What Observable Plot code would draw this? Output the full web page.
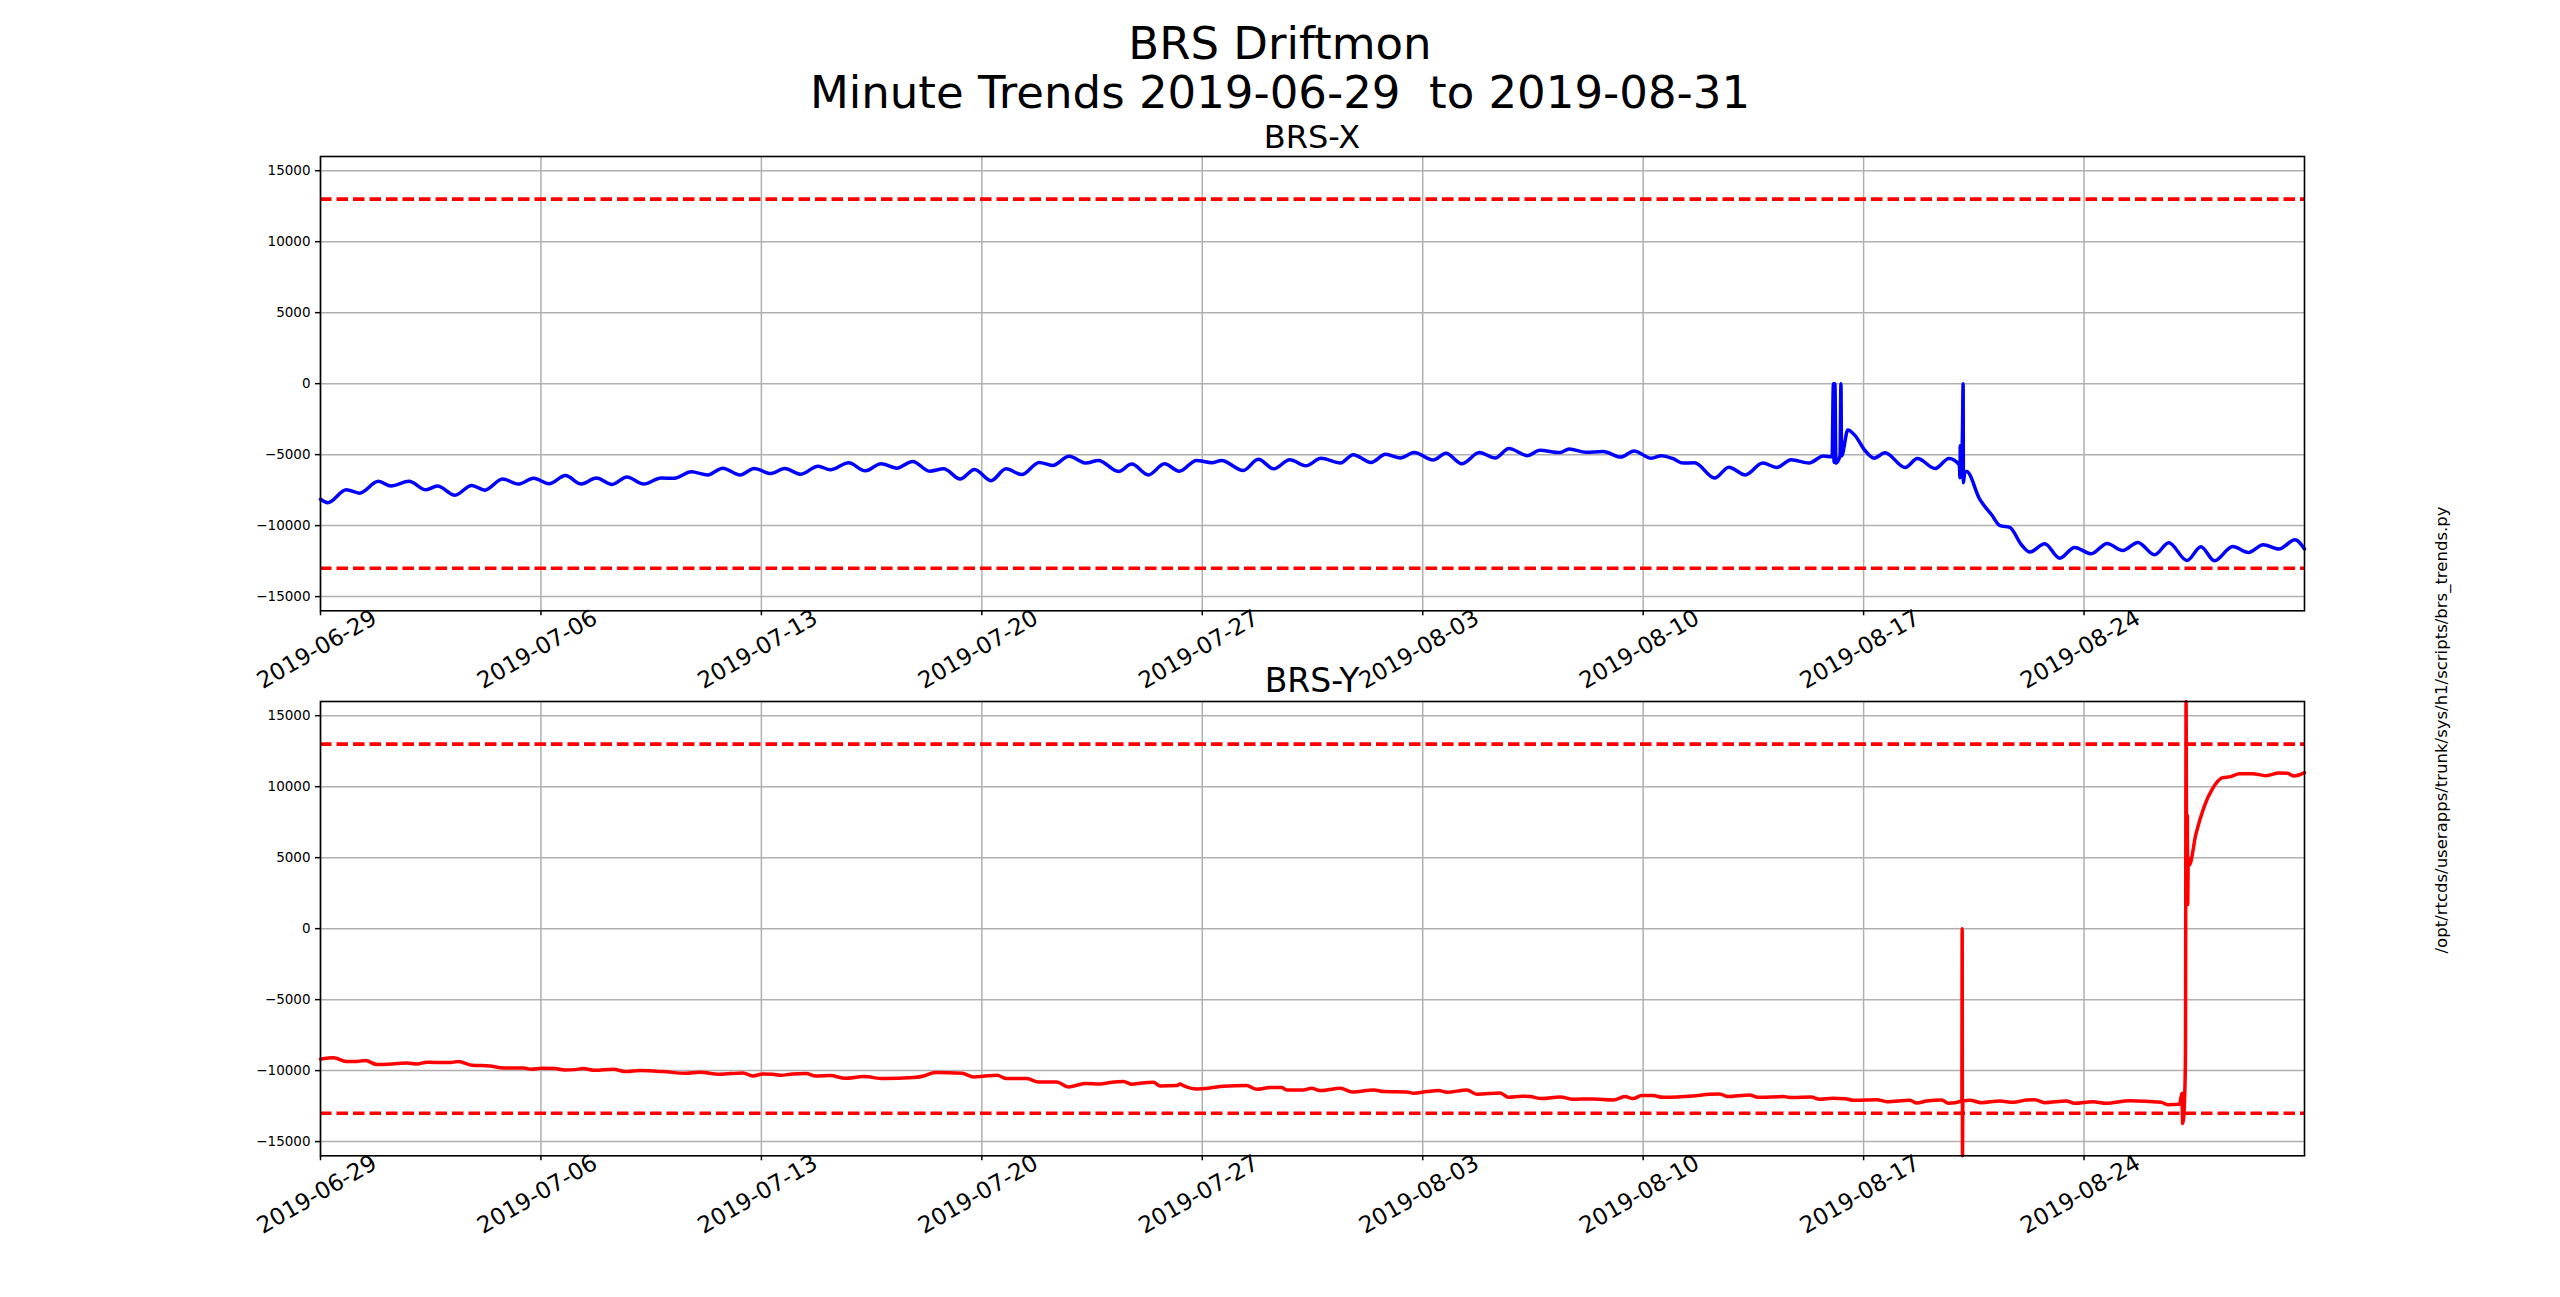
<!DOCTYPE html>
<html>
<head>
<meta charset="utf-8">
<script src="https://cdn.jsdelivr.net/npm/d3@7"></script>
<script src="https://cdn.jsdelivr.net/npm/@observablehq/plot@0.6"></script>
<style>
  html, body { margin: 0; padding: 0; background: #fff; }
  #page { position: relative; width: 2560px; height: 1297px; background: #fff; font-family: "DejaVu Sans", sans-serif; color: #000; overflow: hidden; }
  .t { position: absolute; white-space: nowrap; transform: translateX(-50%); }
  .panel { position: absolute; left: 0; }
  #side { position: absolute; white-space: nowrap; font-size: 16.5px; transform: translate(-50%, -50%) rotate(-90deg); }
</style>
</head>
<body>
<div id="page">
  <div class="t" style="left:1280px; top:18.5px; font-size:45px; line-height:49px; text-align:center; white-space:pre;">BRS Driftmon
Minute Trends 2019-06-29  to 2019-08-31</div>
  <div class="t" style="left:1312px; top:120.5px; font-size:32px; line-height:32px;">BRS-X</div>
  <div id="p1" class="panel" style="top:146px;"></div>
  <div id="p2" class="panel" style="top:690.7px;"></div>
  <div class="t" style="left:1312px; top:664px; font-size:33px; line-height:33px;">BRS-Y</div>
  <div id="side" style="left:2441px; top:730px;">/opt/rtcds/userapps/trunk/sys/h1/scripts/brs_trends.py</div>
</div>
<script>
// ---- data (days since 2019-06-29 00:00 UTC, values in counts) ----
const xDays = [0, 0.23, 0.82, 1.24, 1.84, 2.24, 2.81, 3.35, 3.71, 4.27, 4.80, 5.22, 5.78, 6.28, 6.77, 7.26, 7.78, 8.28, 8.76, 9.26, 9.73, 10.26, 10.82, 11.24, 11.77, 12.30, 12.77, 13.32, 13.77, 14.30, 14.74, 15.25, 15.80,
  16.19, 16.77, 17.30, 17.80, 18.30, 18.80, 19.34, 19.79, 20.31, 20.77, 21.29, 21.77, 22.27, 22.82, 23.25, 23.77, 24.31, 24.70, 25.34, 25.76, 26.29, 26.80, 27.27, 27.82, 28.30, 28.61, 29.30, 29.78, 30.27, 30.78, 31.29, 31.77,
  32.39, 32.79, 33.36, 33.82, 34.29, 34.73, 35.33, 35.74, 36.24, 36.80, 37.30, 37.74, 38.32, 38.72, 39.36, 39.65, 40.18, 40.73, 41.29, 41.71, 42.26, 42.58, 42.95, 43.27, 43.63, 44.27, 44.72, 45.24, 45.80, 46.24, 46.70, 47.27, 47.72,
  48.00, 48.04, 48.06, 48.09, 48.12, 48.25, 48.28, 48.30, 48.50, 48.73, 49.05, 49.33, 49.68, 50.32, 50.71, 51.27, 51.71, 52.04, 52.06, 52.07, 52.09, 52.14, 52.16, 52.17, 52.21, 52.27, 52.69, 53.06, 53.33, 53.64, 54.01, 54.28, 54.75, 55.23, 55.70, 56.23, 56.73, 57.23, 57.71, 58.24, 58.69, 59.27, 59.71, 60.14, 60.72, 61.22, 61.69, 62.19, 62.70, 63.0];
const xVals = [-8143, -8381, -7476, -7714, -6881, -7214, -6881, -7476, -7214, -7857, -7167, -7500, -6714, -7071, -6667, -7048, -6476, -7071, -6643, -7095, -6571, -7071, -6643, -6667, -6214, -6429, -5952, -6429, -5976, -6333, -5976, -6381, -5810,
  -6071, -5571, -6143, -5643, -5952, -5476, -6167, -6000, -6714, -6048, -6833, -6000, -6405, -5548, -5762, -5119, -5595, -5405, -6190, -5667, -6429, -5643, -6167, -5405, -5571, -5405, -6119, -5333, -6000, -5357, -5786, -5262,
  -5595, -5000, -5548, -4976, -5238, -4857, -5381, -4905, -5643, -4857, -5238, -4571, -5071, -4690, -4857, -4595, -4833, -4786, -5167, -4738, -5262, -5071, -5286, -5595, -5571, -6643, -5881, -6429, -5595, -5905, -5357, -5590, -5100,
  -5150, 0, -5550, 0, -5600, -5100, 0, -5100, -3262, -3664, -4728, -5248, -4870, -5910, -5272, -5981, -5272, -5721, -6620, -4373, -6572, -3310, 0, -6974, -6265, -6194, -8156, -9220, -10000, -10118, -11347, -11867, -11276, -12293, -11536, -11985, -11253, -11749, -11182, -12056, -11206, -12458, -11489, -12482, -11465, -11891, -11347, -11654, -10993, -11650];

const yDays = [0, 0.42, 0.82, 1.06, 1.43, 1.80, 2.43, 2.75, 3.06, 3.38, 4.07, 4.38, 4.80, 5.38, 5.81, 6.44, 6.70, 7.02, 7.44, 7.76, 8.08, 8.34, 8.71, 9.29, 9.71, 10.14, 10.88, 11.61, 12.04, 12.67, 13.41, 13.73, 14.04, 14.36, 14.62, 14.99, 15.42, 15.73,
  16.19, 16.67, 17.25, 17.88, 18.83, 19.15, 19.52, 20.37, 20.74, 21.05, 21.48, 21.79, 22.43, 22.80, 23.38, 23.75, 24.28, 24.76, 25.07, 25.50, 25.76, 26.08, 26.45, 26.66, 27.19, 27.29, 27.40, 27.82, 28.19, 28.67, 29.41, 29.73, 30.15, 30.52, 30.68, 31.21, 31.47, 31.73,
  32.39, 32.76, 33.45, 33.76, 34.50, 34.71, 35.14, 35.50, 35.77, 36.40, 36.72, 37.46, 37.72, 38.15, 38.41, 38.78, 39.36, 39.78, 40.41, 41.05, 41.42, 41.68, 41.95, 42.31, 42.63, 43.58, 44.11, 44.43, 44.69, 45.38, 45.64, 46.43, 46.75, 47.33, 47.60, 48.02,
  48.42, 48.68, 49.42, 49.74, 50.47, 50.69, 51.00, 51.48, 51.69, 52.12, 52.13, 52.14, 52.15, 52.38, 52.74, 53.33, 53.75, 54.17, 54.43, 54.75, 55.44, 55.70, 56.28, 56.70, 57.44, 58.45, 58.66, 59.03, 59.11, 59.13, 59.18, 59.22, 59.24, 59.26, 59.28, 59.29, 59.31, 59.34, 59.55, 59.82, 60.08, 60.40, 60.66, 60.93, 61.35, 61.77, 62.19, 62.46, 62.67, 63.0];
const yVals = [-9178, -9085, -9366, -9366, -9296, -9577, -9507, -9460, -9530, -9413, -9437, -9366, -9624, -9671, -9812, -9812, -9906, -9836, -9859, -9953, -9930, -9859, -9977, -9906, -10070, -10000, -10070, -10188, -10117, -10258, -10164, -10376, -10235, -10258, -10329, -10235, -10211, -10376,
  -10352, -10540, -10422, -10563, -10493, -10376, -10141, -10188, -10446, -10399, -10329, -10563, -10563, -10798, -10798, -11150, -10915, -10939, -10845, -10775, -10962, -10868, -10822, -11080, -11056, -10939, -11056, -11291, -11244, -11103, -11056, -11314, -11197, -11197, -11361, -11361, -11244, -11408,
  -11244, -11502, -11361, -11479, -11502, -11596, -11479, -11408, -11526, -11361, -11666, -11573, -11878, -11807, -11831, -11971, -11854, -12018, -11995, -12065, -11831, -11971, -11760, -11760, -11878, -11784, -11666, -11643, -11831, -11713, -11878, -11831, -11901, -11854, -12018, -11948,
  -11977, -12094, -12047, -12188, -12094, -12283, -12141, -12071, -12306, -12141, 0, -16000, -12141, -12094, -12259, -12141, -12236, -12071, -12047, -12259, -12141, -12306, -12188, -12306, -12118, -12236, -12400, -12377, -11600, -13718, -12659, -9130, 16000, 2635, 8000, 1694, 4988, 4471, 6635, 8635, 9859, 10635, 10706, 10918, 10918, 10777, 10965, 10941, 10753, 10988];

const limits = [13000, -13000];
const yTicks = [-15000, -10000, -5000, 0, 5000, 10000, 15000];
const xTickLabels = ["2019-06-29", "2019-07-06", "2019-07-13", "2019-07-20", "2019-07-27", "2019-08-03", "2019-08-10", "2019-08-17", "2019-08-24"];
const xStart = "2019-06-29", xEnd = "2019-08-31";

// ---- drawing ----
const t0 = new Date(xStart).getTime();
const toDate = d => new Date(t0 + d * 864e5);
const tickDates = xTickLabels.map(s => new Date(s));
const fmtY = d => d < 0 ? "\u2212" + Math.abs(d) : String(d);
const fmtX = d3.utcFormat("%Y-%m-%d");

function panel(days, vals, color) {
  const data = days.map((d, i) => ({t: toDate(d), v: vals[i]}));
  return Plot.plot({
    width: 2560,
    height: 554.3,
    marginLeft: 320,
    marginRight: 256,
    marginTop: 10,
    marginBottom: 90,
    style: {fontFamily: "DejaVu Sans", background: "transparent", overflow: "visible", color: "black"},
    x: {type: "utc", domain: [new Date(xStart), new Date(xEnd)], label: null},
    y: {domain: [-16000, 16000], label: null},
    marks: [
      Plot.gridY({ticks: yTicks, stroke: "#b0b0b0", strokeOpacity: 1, strokeWidth: 1.5}),
      Plot.gridX({ticks: tickDates, stroke: "#b0b0b0", strokeOpacity: 1, strokeWidth: 1.5}),
      Plot.ruleY(limits, {stroke: "red", strokeWidth: 3.6, strokeDasharray: "11.5,5"}),
      Plot.line(data, {x: "t", y: "v", stroke: color, strokeWidth: 3.5, curve: "monotone-x"}),
      Plot.frame({stroke: "black", strokeWidth: 1.6}),
      Plot.axisY({ticks: yTicks, tickSize: 5, tickPadding: 5, fontSize: 13.5, tickFormat: fmtY, strokeWidth: 1.5, label: null}),
      Plot.axisX({ticks: tickDates, tickSize: 5, tickFormat: () => "", strokeWidth: 1.5, label: null}),
      Plot.text(tickDates, {x: d => d, text: d => fmtX(d), frameAnchor: "bottom", dy: 45, rotate: -30, fontSize: 23, fill: "black"})
    ]
  });
}

document.getElementById("p1").appendChild(panel(xDays, xVals, "blue"));
document.getElementById("p2").appendChild(panel(yDays, yVals, "red"));
</script>
</body>
</html>
